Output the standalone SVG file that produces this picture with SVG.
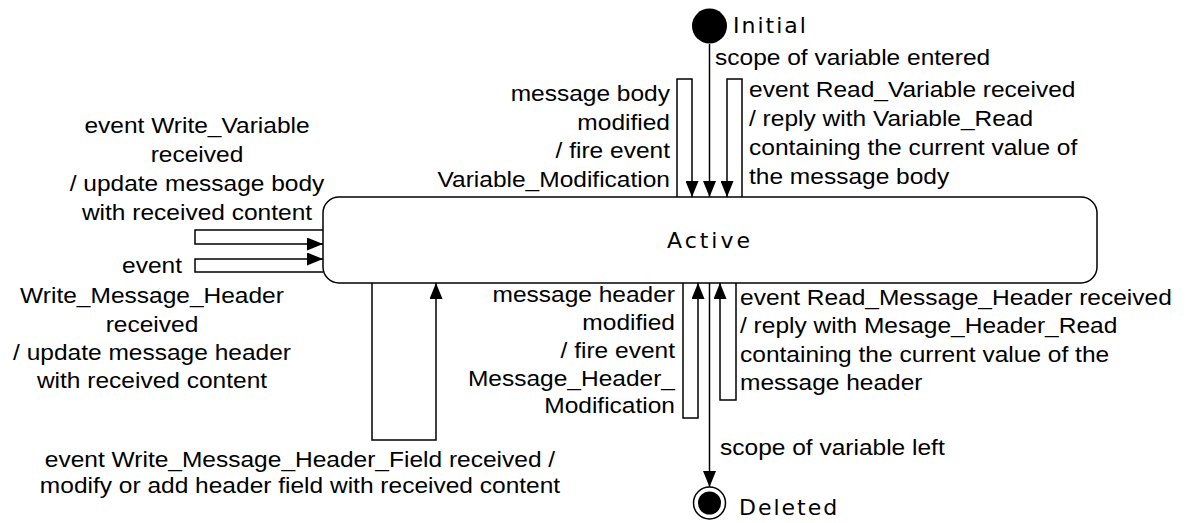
<svg xmlns="http://www.w3.org/2000/svg" width="1188" height="523" viewBox="0 0 1188 523">
<style>
.lbl{font-family:"Liberation Sans",Arial,sans-serif;font-size:21.5px;fill:#000}
.st{font-family:"DejaVu Sans","Liberation Sans",sans-serif;font-size:22px;fill:#000;letter-spacing:2px}
.c{fill:none;stroke:#000;stroke-width:1.5}
</style>
<defs>
<marker id="ah" markerUnits="userSpaceOnUse" markerWidth="17" markerHeight="13" refX="16" refY="6.5" orient="auto">
<path d="M0,0 L16,6.5 L0,13 z" fill="#000"/>
</marker>
</defs>
<rect width="1188" height="523" fill="#fff"/>
<g id="Active">
<rect x="323" y="197" width="774" height="86" rx="16" ry="16" fill="#fff" stroke="#000" stroke-width="1.5"/>
<text class="st" x="710" y="248" text-anchor="middle" style="letter-spacing:3px">Active</text>
</g>
<g id="Initial">
<circle cx="709.5" cy="26" r="17.5" fill="#000"/>
<text class="st" x="733" y="33">Initial</text>
</g>
<g id="Deleted">
<circle cx="709.5" cy="503" r="16" fill="#fff" stroke="#000" stroke-width="1.5"/>
<circle cx="709.5" cy="503" r="11.5" fill="#000"/>
<text class="st" x="739" y="515">Deleted</text>
</g>
<g id="connectors">
<path class="c" d="M709.5,44 V197" marker-end="url(#ah)"/>
<path class="c" d="M677,197 V79 H692 V197" marker-end="url(#ah)"/>
<path class="c" d="M742,197 V79 H727 V197" marker-end="url(#ah)"/>
<path class="c" d="M323,230 H195 V244 H323" marker-end="url(#ah)"/>
<path class="c" d="M323,272 H195 V259 H323" marker-end="url(#ah)"/>
<path class="c" d="M372,283 V440 H436 V283" marker-end="url(#ah)"/>
<path class="c" d="M683,283 V418 H698 V283" marker-end="url(#ah)"/>
<path class="c" d="M736,283 V400 H720 V283" marker-end="url(#ah)"/>
<path class="c" d="M709.5,283 V487" marker-end="url(#ah)"/>
</g>
<g id="labels">
<text class="lbl" transform="matrix(1.14 0 0 1 715 0)"><tspan x="0" y="65">scope of variable entered</tspan></text>
<text class="lbl" transform="matrix(1.14 0 0 1 670 0)" text-anchor="end"><tspan x="0" y="101">message body</tspan><tspan x="0" y="130">modified</tspan><tspan x="0" y="158">/ fire event</tspan><tspan x="0" y="187">Variable_Modification</tspan></text>
<text class="lbl" transform="matrix(1.14 0 0 1 749 0)"><tspan x="0" y="97">event Read_Variable received</tspan><tspan x="0" y="126">/ reply with Variable_Read</tspan><tspan x="0" y="155">containing the current value of</tspan><tspan x="0" y="184">the message body</tspan></text>
<text class="lbl" transform="matrix(1.14 0 0 1 197 0)" text-anchor="middle"><tspan x="0" y="133">event Write_Variable</tspan><tspan x="0" y="162">received</tspan><tspan x="0" y="191">/ update message body</tspan><tspan x="0" y="220">with received content</tspan></text>
<text class="lbl" transform="matrix(1.14 0 0 1 152 0)" text-anchor="middle"><tspan x="0" y="273">event</tspan><tspan x="0" y="303">Write_Message_Header</tspan><tspan x="0" y="332">received</tspan><tspan x="0" y="360">/ update message header</tspan><tspan x="0" y="388">with received content</tspan></text>
<text class="lbl" transform="matrix(1.14 0 0 1 675 0)" text-anchor="end"><tspan x="0" y="302">message header</tspan><tspan x="0" y="330">modified</tspan><tspan x="0" y="358">/ fire event</tspan><tspan x="0" y="386">Message_Header_</tspan><tspan x="0" y="413">Modification</tspan></text>
<text class="lbl" transform="matrix(1.14 0 0 1 740 0)"><tspan x="0" y="305">event Read_Message_Header received</tspan><tspan x="0" y="333">/ reply with Mesage_Header_Read</tspan><tspan x="0" y="362">containing the current value of the</tspan><tspan x="0" y="390">message header</tspan></text>
<text class="lbl" transform="matrix(1.14 0 0 1 720 0)"><tspan x="0" y="455">scope of variable left</tspan></text>
<text class="lbl" transform="matrix(1.14 0 0 1 300 0)" text-anchor="middle"><tspan x="0" y="467">event Write_Message_Header_Field received /</tspan><tspan x="0" y="493">modify or add header field with received content</tspan></text>
</g>
</svg>
